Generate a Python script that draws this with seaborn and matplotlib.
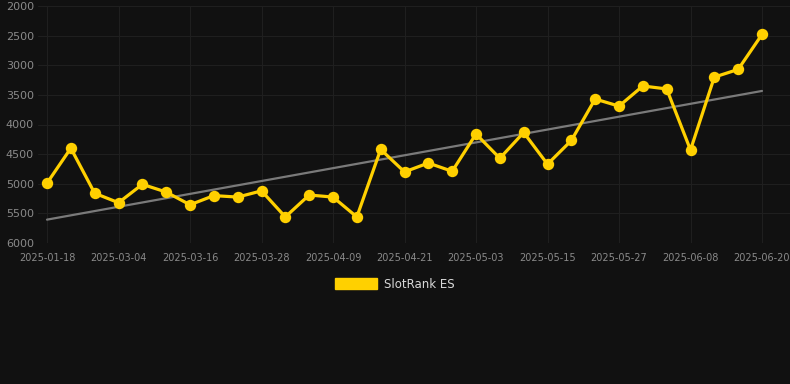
import numpy as np
import pandas as pd
import matplotlib
matplotlib.use("Agg")
import matplotlib.pyplot as plt
import seaborn as sns
from matplotlib.patches import Patch

dates = [
    "2025-01-18", "2025-02-22", "2025-02-28", "2025-03-04", "2025-03-08", "2025-03-12",
    "2025-03-16", "2025-03-20", "2025-03-24", "2025-03-28", "2025-04-01", "2025-04-05",
    "2025-04-09", "2025-04-13", "2025-04-17", "2025-04-21", "2025-04-25", "2025-04-29",
    "2025-05-03", "2025-05-07", "2025-05-11", "2025-05-15", "2025-05-19", "2025-05-23",
    "2025-05-27", "2025-05-31", "2025-06-04", "2025-06-08", "2025-06-12", "2025-06-16",
    "2025-06-20",
]
rank = [
    4990, 4400, 5160, 5320, 5010, 5140, 5355, 5200, 5225, 5120, 5560, 5190,
    5225, 5560, 4420, 4800, 4650, 4790, 4160, 4570, 4135, 4670, 4270, 3570,
    3690, 3350, 3400, 4430, 3200, 3070, 2480,
]
series_name = "SlotRank ES"

bg = "#111111"
gold = "#FFD000"

df = pd.DataFrame({"date": dates, "rank": rank})
df["pos"] = np.arange(len(df))

sns.set_style("dark")
plt.rcParams["font.family"] = ["DejaVu Sans"]

fig = plt.figure(figsize=(7.9, 3.84), dpi=100, facecolor=bg)
ax = fig.add_axes([38 / 790, (384 - 243) / 384, 752 / 790, 237 / 384])
ax.set_facecolor(bg)

# trend line (least squares)
k, b = np.polyfit(df["pos"], df["rank"], 1)
df["trend"] = k * df["pos"] + b
sns.lineplot(data=df, x="pos", y="trend", ax=ax, color="#7a7a7a", linewidth=1.6)

sns.lineplot(data=df, x="pos", y="rank", ax=ax, color=gold, linewidth=2.3,
             marker="o", markersize=8.2, markeredgewidth=0, markeredgecolor=gold)

n = len(df)
step = (762 - 47) / (n - 1)
ax.set_xlim(-9 / step, (n - 1) + 28 / step)
ax.set_ylim(6000, 2000)
ax.set_yticks(range(2000, 6001, 500))
ax.set_xticks(df["pos"][::3])
ax.set_xticklabels(df["date"][::3])

ax.grid(True, color="#1f1f1f", linewidth=0.8)
for s in ax.spines.values():
    s.set_visible(False)
ax.tick_params(axis="y", colors="#8a8a8a", labelsize=8, length=0, pad=3)
ax.tick_params(axis="x", colors="#8a8a8a", labelsize=7, length=0, pad=7)
ax.set_xlabel("")
ax.set_ylabel("")

fig.legend(handles=[Patch(facecolor=gold, edgecolor=gold, label=series_name)],
           loc="center", bbox_to_anchor=(0.5, 1 - 284 / 384), frameon=False,
           handlelength=3.6, handleheight=1.1, handletextpad=0.6,
           labelcolor="#d8d8d8", fontsize=8.5)

fig.savefig("out.png", dpi=100, facecolor=bg)
